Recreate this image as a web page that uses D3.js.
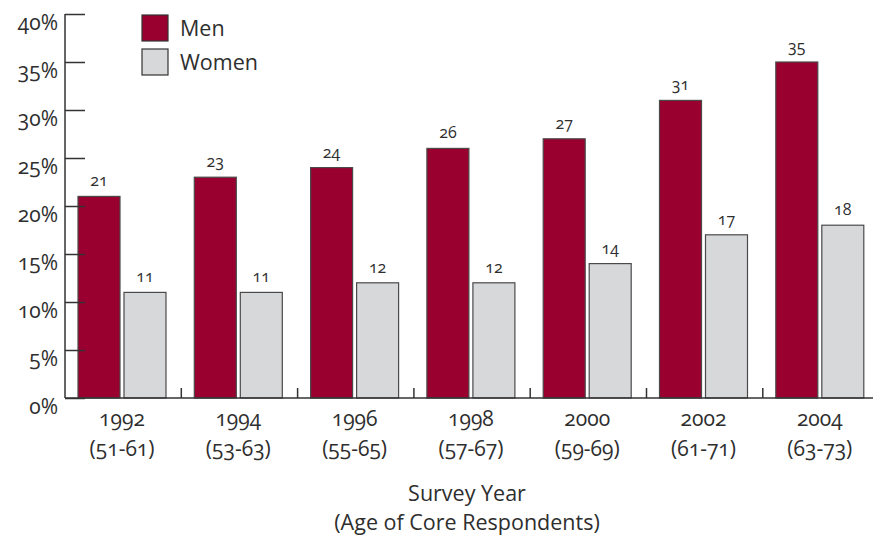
<!DOCTYPE html>
<html>
<head>
<meta charset="utf-8">
<script src="https://cdn.jsdelivr.net/npm/d3@7"></script>
<style>
  html, body { margin: 0; padding: 0; background: #fff; }
  svg text { font-family: "Open Sans", "Noto Sans", sans-serif; fill: #2e2e2e; font-feature-settings: "onum" 1; }
</style>
</head>
<body>
<svg id="chart" width="873" height="537"></svg>
<script>
// Share of respondents by survey year, men vs women
const years = ["1992", "1994", "1996", "1998", "2000", "2002", "2004"];
const ageRanges = ["(51-61)", "(53-63)", "(55-65)", "(57-67)", "(59-69)", "(61-71)", "(63-73)"];
const menValues = [21, 23, 24, 26, 27, 31, 35];
const womenValues = [11, 11, 12, 12, 14, 17, 18];
const seriesNames = ["Men", "Women"];
const yTicks = [0, 5, 10, 15, 20, 25, 30, 35, 40];

const colors = { Men: "#990030", Women: "#d7d8da" };

const svg = d3.select("#chart");
const plotLeft = 65, plotBottom = 398, plotTop = 14;
const groupWidth = 116.3;

const y = d3.scaleLinear().domain([0, 40]).range([plotBottom, plotTop]);
const x0 = d3.scaleBand().domain(years)
  .range([plotLeft, plotLeft + groupWidth * years.length]).padding(0);
const x1 = d3.scaleBand().domain(seriesNames)
  .range([13, 101]).paddingInner(0.087).paddingOuter(0);

const rows = years.map((yr, i) => ({
  year: yr, age: ageRanges[i],
  vals: [{ key: "Men", v: menValues[i] }, { key: "Women", v: womenValues[i] }]
}));

// Bars
const g = svg.append("g");
const groups = g.selectAll("g.grp").data(rows).join("g")
  .attr("class", "grp")
  .attr("transform", d => `translate(${x0(d.year)},0)`);

groups.selectAll("rect").data(d => d.vals).join("rect")
  .attr("x", d => x1(d.key))
  .attr("y", d => y(d.v))
  .attr("width", x1.bandwidth())
  .attr("height", d => y(0) - y(d.v))
  .attr("fill", d => colors[d.key])
  .attr("stroke", "#4a4a4a")
  .attr("stroke-width", 1.2);

groups.selectAll("text.val").data(d => d.vals).join("text")
  .attr("class", "val")
  .attr("x", d => x1(d.key) + x1.bandwidth() / 2)
  .attr("y", d => y(d.v) - 10)
  .attr("text-anchor", "middle")
  .attr("font-size", 16)
  .text(d => d.v);

// Y axis: labels hang just below their tick
const yAxis = d3.axisLeft(y).tickValues(yTicks).tickSize(-20).tickPadding(28)
  .tickFormat(d => d + "%");
const ya = svg.append("g").attr("transform", `translate(${plotLeft},0)`).call(yAxis);
ya.select(".domain").remove();
ya.selectAll(".tick line").attr("stroke", "#333").attr("stroke-width", 1.5);
ya.selectAll(".tick text").attr("font-size", 21).attr("x", -7).attr("dy", "0.74em");
svg.append("line").attr("x1", plotLeft).attr("x2", plotLeft).attr("y1", plotTop).attr("y2", plotBottom)
  .attr("stroke", "#333").attr("stroke-width", 1.5);

// X axis baseline and group separators
svg.append("line").attr("x1", plotLeft).attr("x2", 873).attr("y1", plotBottom).attr("y2", plotBottom)
  .attr("stroke", "#333").attr("stroke-width", 1.5);
svg.selectAll("line.sep").data(years.slice(1)).join("line")
  .attr("class", "sep")
  .attr("x1", d => x0(d)).attr("x2", d => x0(d))
  .attr("y1", plotBottom).attr("y2", plotBottom - 10)
  .attr("stroke", "#333").attr("stroke-width", 1.5);

// Category labels
const cats = svg.append("g").selectAll("g").data(rows).join("g")
  .attr("transform", d => `translate(${x0(d.year) + 57},0)`);
cats.append("text").attr("y", 426).attr("text-anchor", "middle")
  .attr("font-size", 21).text(d => d.year);
cats.append("text").attr("y", 456).attr("text-anchor", "middle")
  .attr("font-size", 21).text(d => d.age);

// Axis title
svg.append("text").attr("x", 467).attr("y", 501).attr("text-anchor", "middle")
  .attr("font-size", 21.5).text("Survey Year");
svg.append("text").attr("x", 467).attr("y", 530).attr("text-anchor", "middle")
  .attr("font-size", 21.5).text("(Age of Core Respondents)");

// Legend
const legend = svg.append("g").selectAll("g").data(seriesNames).join("g")
  .attr("transform", (d, i) => `translate(142,${15 + i * 34})`);
legend.append("rect").attr("width", 26).attr("height", 26)
  .attr("fill", d => colors[d]).attr("stroke", "#333").attr("stroke-width", 1.2);
legend.append("text").attr("x", 38).attr("y", 21).attr("font-size", 21.5).text(d => d);
</script>
</body>
</html>
